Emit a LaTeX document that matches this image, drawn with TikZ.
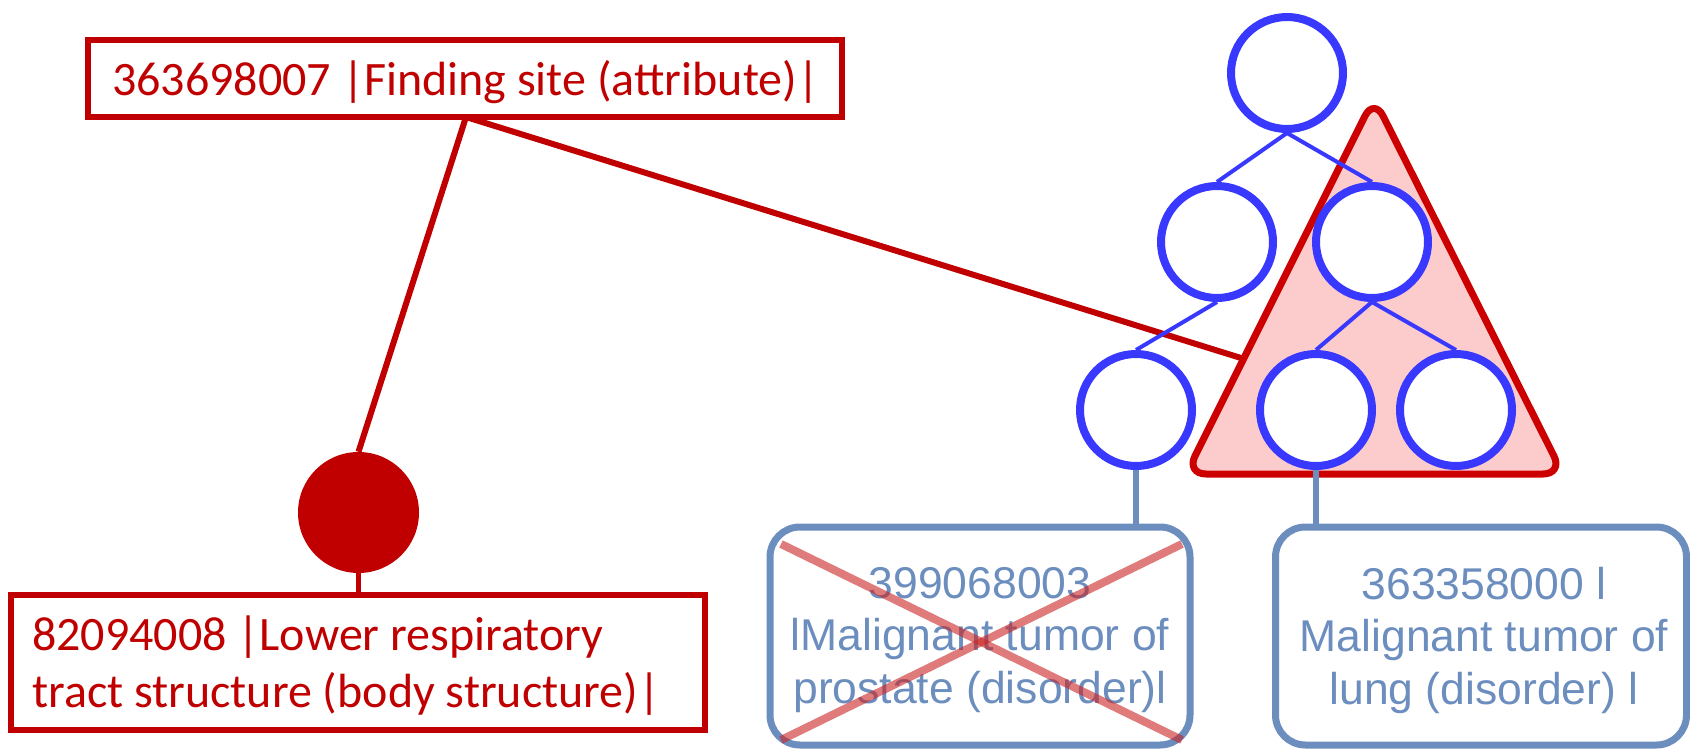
\documentclass[tikz,border=0pt]{standalone}
\usepackage{fontspec}
\setmainfont{Carlito}
\newfontfamily\helv{Liberation Sans}
\usetikzlibrary{calc}
\definecolor{sctred}{HTML}{C00000}
\definecolor{trired}{HTML}{CC0000}
\definecolor{tripink}{HTML}{FCCCCC}
\definecolor{treeblue}{HTML}{3838FF}
\definecolor{steel}{HTML}{6C8EBF}
\definecolor{crossred}{RGB}{203,35,35}
\begin{document}
\begin{tikzpicture}[x=1pt,y=-1pt,
  redbox/.style={draw=sctred, line width=6pt, fill=white, rectangle, inner sep=0pt},
  redtxt/.style={text=sctred, font=\fontsize{48}{57}\selectfont, inner sep=0pt, anchor=base west},
  redline/.style={draw=sctred, line width=6pt},
  tnode/.style={circle, draw=treeblue, line width=8pt, fill=white, minimum size=112pt, inner sep=0pt},
  tedge/.style={draw=treeblue, line width=4pt},
  conbox/.style={draw=steel, line width=7pt, rounded corners=30pt, rectangle, inner sep=0pt, fill=white},
  contxt/.style={text=steel, font=\helv\fontsize{44.5}{52.5}\selectfont, align=center, inner sep=0pt},
  conline/.style={draw=steel, line width=6pt},
  crossline/.style={draw=crossred, line width=8pt, opacity=0.6},
]
\useasboundingbox (0,0) rectangle (1690,750);

% nodes used by connectors
\coordinate (trihit) at (1241,358);
\node[circle, fill=sctred, minimum size=121pt, inner sep=0pt] (dot) at (358.5,512.5) {};
\coordinate (fsj) at (466,117);

% red connectors
\draw[redline] (fsj) -- (dot.north);
\draw[redline] (fsj) -- (trihit);
\draw[sctred, line width=5pt] (dot.south) -- (358.5,600) coordinate (lrtj);

% red boxes
\node[redbox, minimum width=754pt, minimum height=77pt] (fsbox) at (465,78.5) {};
\node[redtxt] (fstext) at (112,95) {363698007 |Finding site (attribute)|};
\node[redbox, minimum width=694pt, minimum height=135pt] (lrtbox) at (358,662.5) {};
\node[redtxt] (lrtone) at (32,650) {82094008 |Lower respiratory};
\node[redtxt] (lrttwo) at (32,707) {tract structure (body structure)|};

% triangle
\draw[trired, line width=7pt, fill=tripink, rounded corners=20pt]
  (1374,474) -- (1563,474) -- (1374,98) -- (1186,474) -- cycle;

% tree
\node[tnode] (top) at (1287,73) {};
\node[tnode] (ml) at (1217,242) {};
\node[tnode] (mr) at (1372,242) {};
\node[tnode] (bl) at (1136,410) {};
\node[tnode] (bm) at (1316,410) {};
\node[tnode] (br) at (1456,410) {};
\draw[tedge] (top.south) -- (ml.north);
\draw[tedge] (top.south) -- (mr.north);
\draw[tedge] (ml.south) -- (bl.north);
\draw[tedge] (mr.south) -- (bm.north);
\draw[tedge] (mr.south) -- (br.north);

% concept boxes
\node[conbox, minimum width=420pt, minimum height=218pt] (lbox) at (980,636) {};
\node[conbox, minimum width=411pt, minimum height=218pt] (rbox) at (1481,636) {};
\draw[conline] (bl.south) -- (bl.south |- lbox.north);
\draw[conline] (bm.south) -- (bm.south |- rbox.north);
\node[contxt] (ltext) at (980,640) {399068003\\lMalignant tumor of\\prostate (disorder)l};
\node[contxt] (rtext) at (1484,640) {363358000 l\\Malignant tumor of\\lung (disorder) l};

% cross
\draw[crossline] (781,544) -- (1182,740);
\draw[crossline] (1182,544) -- (781,740);
\end{tikzpicture}
\end{document}
